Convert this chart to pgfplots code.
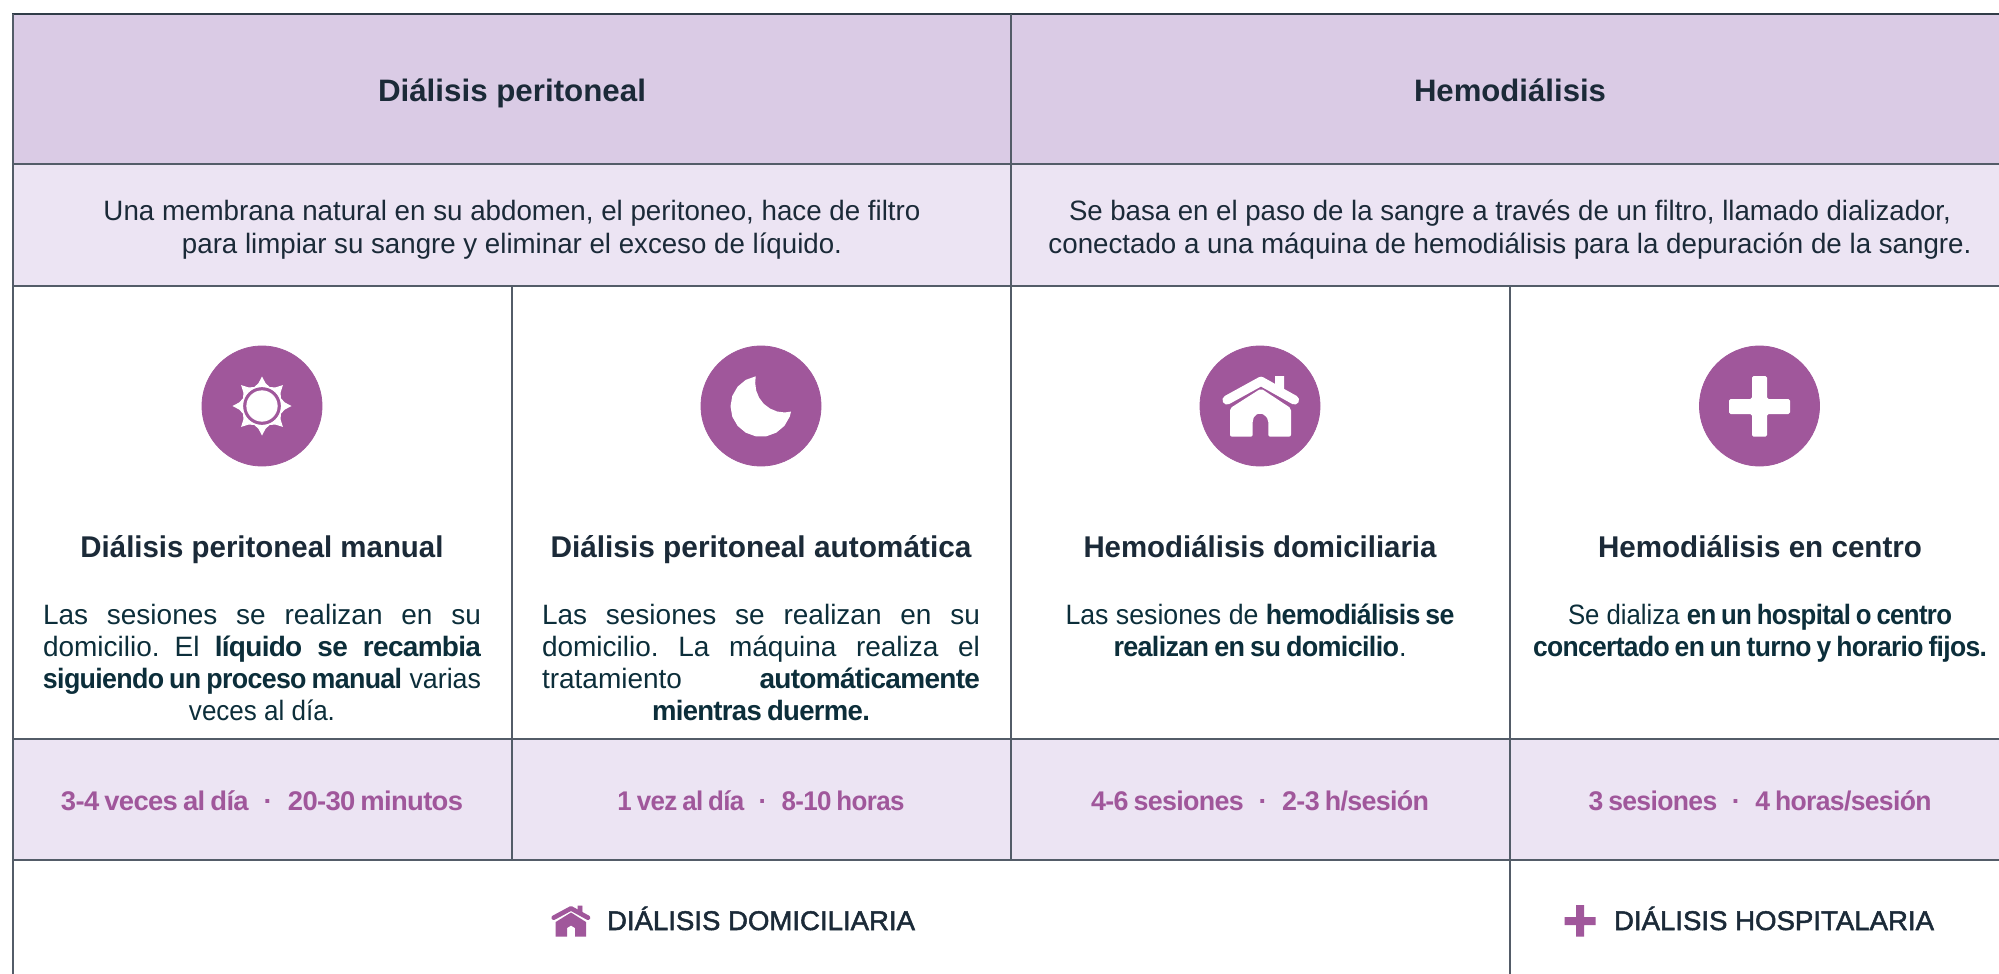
\documentclass[border=0pt]{standalone}
\usepackage{pgfplots}
\pgfplotsset{compat=1.18}
\usepackage{graphicx}
\usepackage{fontspec}
\setmainfont{Liberation Sans}
\newfontfamily\medfont[FakeBold=1.8]{Liberation Sans}
\newfontfamily\tightbold[BoldFont={Liberation Sans Bold},LetterSpace=-2.5,WordSpace=0.75]{Liberation Sans Bold}
\definecolor{hdr}{HTML}{DACBE5}
\definecolor{sub}{HTML}{ECE4F3}
\definecolor{pur}{HTML}{A0579B}
\definecolor{rule}{HTML}{535C68}
\definecolor{ruletop}{HTML}{303C48}
\definecolor{ink}{HTML}{1B2A38}
\definecolor{teal}{HTML}{0C2E3A}
\newcommand\W[2]{\resizebox{#1pt}{\height}{#2}}
\newcommand\J[1]{\hbox to 219pt{#1}}
\newcommand\B[1]{{\tightbold #1}}
\newcommand\sep{\hspace{.55em}·\hspace{.55em}}
\tikzset{
 t/.style={anchor=base,inner sep=0pt,outer sep=0pt},
 head/.style={t,text=ink,font=\fontsize{15.5}{18}\selectfont\bfseries},
 subt/.style={t,text=ink,font=\fontsize{14}{16}\selectfont},
 tit/.style={t,text=ink,font=\fontsize{15}{18}\selectfont\bfseries},
 bod/.style={t,text=teal,font=\fontsize{14}{16}\selectfont},
 row/.style={t,text=pur,font=\fontsize{13.5}{16}\selectfont\tightbold},
 foot/.style={t,text=ink,font=\fontsize{13.5}{16}\selectfont\medfont},
}
\pgfplotsset{
 band/.style={draw=none,fill=#1,no marks,forget plot},
 vl/.style={draw=rule,line width=0.8pt,no marks,forget plot},
 hl/.style={draw=rule,line width=1pt,no marks,forget plot},
 dot/.style={only marks,mark=*,mark size=#1,mark options={draw=none},forget plot},
 wf/.style={draw=none,fill=white,no marks,forget plot},
}
\begin{document}
\begin{tikzpicture}
\begin{axis}[
  scale only axis,width=999.5pt,height=487pt,
  xmin=0,xmax=1999,ymin=0,ymax=974,y dir=reverse,
  hide axis,clip=true,clip marker paths=true]
% page
\addplot[band=white] coordinates {(0,0)(1999,0)(1999,974)(0,974)} -- cycle;
% bands
\addplot[band=hdr] coordinates {(13,14)(1999,14)(1999,164)(13,164)} -- cycle;
\addplot[band=sub] coordinates {(13,164)(1999,164)(1999,285.5)(13,285.5)} -- cycle;
\addplot[band=sub] coordinates {(13,739)(1999,739)(1999,860)(13,860)} -- cycle;
% rules
\addplot[hl,draw=ruletop] coordinates {(12,14)(1999,14)};
\addplot[hl] coordinates {(12,164)(1999,164)};
\addplot[hl] coordinates {(12,285.5)(1999,285.5)};
\addplot[hl] coordinates {(12,739)(1999,739)};
\addplot[hl] coordinates {(12,860)(1999,860)};
\addplot[vl] coordinates {(13,14)(13,974)};
\addplot[vl] coordinates {(1011,14)(1011,860)};
\addplot[vl] coordinates {(512,285.5)(512,860)};
\addplot[vl] coordinates {(1510,285.5)(1510,974)};
% icon discs
\addplot[dot=30pt,pur] coordinates {(262,406)(761,406)(1260,406)(1759.5,406)};
% sun
\addplot[wf] coordinates {(291.5,406)(284.7,409.6)(280.9,413.8)(280.6,419.5)(282.9,426.9)(275.5,424.6)(269.8,424.9)(265.6,428.7)(262,435.5)(258.4,428.7)(254.2,424.9)(248.5,424.6)(241.1,426.9)(243.4,419.5)(243.1,413.8)(239.3,409.6)(232.5,406)(239.3,402.4)(243.1,398.2)(243.4,392.5)(241.1,385.1)(248.5,387.4)(254.2,387.1)(258.4,383.3)(262,376.5)(265.6,383.3)(269.8,387.1)(275.5,387.4)(282.9,385.1)(280.6,392.5)(280.9,398.2)(284.7,402.4)} -- cycle;
\addplot[dot=9.2pt,pur] coordinates {(262,406)};
\addplot[dot=7.6pt,white] coordinates {(262,406)};
% moon
\addplot[wf] coordinates {(755.7,376.3)(745.75,379.9)(737.6,386.7)(732.3,395.9)(730.5,406.3)(732.3,416.7)(737.6,425.9)(745.75,432.7)(755.7,436.3)(766.3,436.3)(776.25,432.7)(784.4,425.9)(789.7,416.7)(791,411.6)(784.7,412.5)(777.06,411.5)(769.95,408.5)(763.8,403.9)(759.15,397.75)(756.2,390.6)(755.2,383)} -- cycle;
% house
\addplot[wf] coordinates {(1275,376)(1284,376)(1284,392)(1275,387)} -- cycle;
\addplot[draw=white,line width=4.6pt,line cap=round,line join=round,no marks,forget plot] coordinates {(1227,400)(1261,381.3)(1294.5,400)};
\addplot[wf,rounded corners=1pt] coordinates {(1230,408.3)(1261,388.5)(1291,408.3)(1291,436.7)(1268.3,436.7)(1268.3,420)(1265,415)(1260,413.3)(1255,415)(1252.7,420)(1252.7,436.7)(1230,436.7)} -- cycle;
% plus
\addplot[wf,rounded corners=0.8pt] coordinates {(1752,376)(1767,376)(1767,399)(1790,399)(1790,414)(1767,414)(1767,436.7)(1752,436.7)(1752,414)(1729,414)(1729,399)(1752,399)} -- cycle;
% small house
\addplot[draw=pur,fill=pur,no marks,forget plot] coordinates {(578,906)(582,906)(582,914)(578,911)} -- cycle;
\addplot[draw=pur,line width=2.3pt,line cap=round,line join=round,no marks,forget plot] coordinates {(553.7,917.7)(571,908.4)(588,917.7)};
\addplot[draw=none,fill=pur,no marks,forget plot] coordinates {(555.7,922)(571,912.5)(586,922)(586,936.5)(575,936.5)(575,928)(571,925.5)(567,928)(567,936.5)(555.7,936.5)} -- cycle;
% small plus
\addplot[draw=none,fill=pur,no marks,forget plot] coordinates {(1576,905)(1584,905)(1584,917)(1595.5,917)(1595.5,925)(1584,925)(1584,936.5)(1576,936.5)(1576,925)(1564.5,925)(1564.5,917)(1576,917)} -- cycle;
% headers
\node[head] at (axis cs:512,102) {\W{134}{Diálisis peritoneal}};
\node[head] at (axis cs:1510,102) {\W{96}{Hemodiálisis}};
% subheads
\node[subt] at (axis cs:512,220.5) {\W{408.5}{Una membrana natural en su abdomen, el peritoneo, hace de filtro}};
\node[subt] at (axis cs:512,253) {\W{330}{para limpiar su sangre y eliminar el exceso de líquido.}};
\node[subt] at (axis cs:1510,220.5) {\W{441}{Se basa en el paso de la sangre a través de un filtro, llamado dializador,}};
\node[subt] at (axis cs:1510,253) {\W{461.5}{conectado a una máquina de hemodiálisis para la depuración de la sangre.}};
% titles
\node[tit] at (axis cs:262,557) {\W{181.5}{Diálisis peritoneal manual}};
\node[tit] at (axis cs:761,557) {\W{210.5}{Diálisis peritoneal automática}};
\node[tit] at (axis cs:1260,557) {\W{176.5}{Hemodiálisis domiciliaria}};
\node[tit] at (axis cs:1760,557) {\W{162}{Hemodiálisis en centro}};
% body col 1
\node[bod] at (axis cs:262,624) {\J{Las\hfill sesiones\hfill se\hfill realizan\hfill en\hfill su}};
\node[bod] at (axis cs:262,656) {\J{domicilio.\hfill El\hfill \B{líquido}\hfill \B{se}\hfill \B{recambia}}};
\node[bod] at (axis cs:262,688) {\W{219}{\B{siguiendo un proceso manual} varias}};
\node[bod] at (axis cs:262,720) {\W{73}{veces al día.}};
% body col 2
\node[bod] at (axis cs:761,624) {\J{Las\hfill sesiones\hfill se\hfill realizan\hfill en\hfill su}};
\node[bod] at (axis cs:761,656) {\J{domicilio.\hfill La\hfill máquina\hfill realiza\hfill el}};
\node[bod] at (axis cs:761,688) {\J{tratamiento\hfill \B{automáticamente}}};
\node[bod] at (axis cs:761,720) {\W{109}{\B{mientras duerme.}}};
% body col 3
\node[bod] at (axis cs:1260,624) {\W{194.5}{Las sesiones de \B{hemodiálisis se}}};
\node[bod] at (axis cs:1260,656) {\W{146.5}{\B{realizan en su domicilio}.}};
% body col 4
\node[bod] at (axis cs:1760,624) {\W{192}{Se dializa \B{en un hospital o centro}}};
\node[bod] at (axis cs:1760,656) {\W{227}{\B{concertado en un turno y horario fijos.}}};
% frequency row
\node[row] at (axis cs:262,810) {\W{201}{3-4 veces al día\sep 20-30 minutos}};
\node[row] at (axis cs:761,810) {\W{143.5}{1 vez al día\sep 8-10 horas}};
\node[row] at (axis cs:1260,810) {\W{169}{4-6 sesiones\sep 2-3 h/sesión}};
\node[row] at (axis cs:1760,810) {\W{171.5}{3 sesiones\sep 4 horas/sesión}};
% footer
\node[foot] at (axis cs:761,930) {\W{154}{DIÁLISIS DOMICILIARIA}};
\node[foot] at (axis cs:1774,930) {\W{160}{DIÁLISIS HOSPITALARIA}};
\end{axis}
\end{tikzpicture}
\end{document}
